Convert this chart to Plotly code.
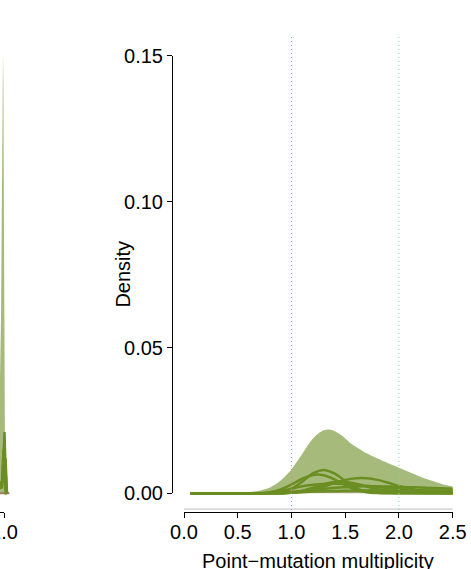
import plotly.graph_objects as go

W, H = 471, 569

# ---------------- data: right panel (point-mutation multiplicity) ----------------
fill_x = [0.06, 0.3, 0.5, 0.6, 0.7, 0.8, 0.9, 0.95, 1.0, 1.05, 1.1, 1.15, 1.2, 1.25, 1.3,
          1.35, 1.4, 1.45, 1.5, 1.55, 1.6, 1.7, 1.8, 1.9, 2.0, 2.1, 2.2, 2.3, 2.4, 2.5]
fill_y = [0.0001, 0.0001, 0.0002, 0.0004, 0.0009, 0.0020, 0.0044, 0.0062, 0.0082, 0.0108,
          0.0135, 0.0163, 0.0188, 0.0205, 0.0216, 0.0219, 0.0214, 0.0203, 0.0188, 0.0172,
          0.0160, 0.0137, 0.0119, 0.0103, 0.0088, 0.0072, 0.0057, 0.0044, 0.0032, 0.0023]

line_x = [0.06, 0.3, 0.5, 0.6, 0.7, 0.8, 0.9, 1.0, 1.1, 1.2, 1.3, 1.4, 1.5, 1.6, 1.7,
          1.8, 1.9, 2.0, 2.1, 2.2, 2.3, 2.4, 2.5]
sample_a = [0, 0, 0, 0, 0, 0.0001, 0.0004, 0.0015, 0.0040, 0.0068, 0.0080, 0.0068, 0.0042,
            0.0018, 0.0006, 0.0002, 0.0001, 0, 0, 0, 0, 0, 0]
sample_b = [0, 0, 0, 0, 0.0001, 0.0004, 0.0013, 0.0030, 0.0050, 0.0063, 0.0062, 0.0048,
            0.0028, 0.0012, 0.0004, 0.0001, 0, 0, 0, 0, 0, 0, 0]
sample_c = [0, 0, 0, 0, 0, 0, 0, 0.0002, 0.0006, 0.0013, 0.0023, 0.0035, 0.0046, 0.0052,
            0.0052, 0.0046, 0.0036, 0.0025, 0.0016, 0.0009, 0.0005, 0.0002, 0.0001]
sample_d = [0, 0, 0, 0, 0, 0.0002, 0.0008, 0.0016, 0.0024, 0.0029, 0.0032, 0.0033, 0.0032,
            0.0030, 0.0026, 0.0022, 0.0018, 0.0015, 0.0012, 0.0010, 0.0008, 0.0006, 0.0005]
sample_e = [0, 0, 0, 0, 0, 0, 0, 0.0004, 0.0008, 0.0012, 0.0016, 0.0019, 0.0021, 0.0023,
            0.0024, 0.0024, 0.0023, 0.0022, 0.0021, 0.0020, 0.0018, 0.0017, 0.0016]
sample_f = [0, 0, 0, 0, 0, 0, 0, 0.0003, 0.0009, 0.0019, 0.0031, 0.0039, 0.0040, 0.0033,
            0.0023, 0.0014, 0.0008, 0.0004, 0.0002, 0.0001, 0, 0, 0]
sample_g = [0, 0, 0, 0, 0, 0, 0, 0.0002, 0.0004, 0.0006, 0.0007, 0.0008, 0.0009, 0.0009,
            0.0010, 0.0010, 0.0010, 0.0010, 0.0010, 0.0010, 0.0010, 0.0010, 0.0010]
brown_y = [0, 0, 0, 0, 0.0001, 0.0003, 0.0005, 0.0006, 0.0006, 0.0006, 0.0006, 0.0006,
           0.0006, 0.0006, 0.0006, 0.0006, 0.0006, 0.0006, 0.0006, 0.0006, 0.0006, 0.0006, 0.0006]
green_lines = [sample_a, sample_b, sample_c, sample_d, sample_e, sample_f, sample_g]

ref_lines = [1.0, 2.0]
x_ticks = [0.0, 0.5, 1.0, 1.5, 2.0, 2.5]
y_ticks = [0.00, 0.05, 0.10, 0.15]
x_title = "Point\u2212mutation multiplicity"
y_title = "Density"

# ---------------- data: left (cropped) panel spike ----------------
spike_x = [0.9292, 0.9627, 0.9776, 0.985, 0.9887, 0.9924, 0.9947, 0.9962, 0.9976, 0.9999,
           1.0017, 1.0036, 1.0073, 1.0147]
spike_y = [0.0, 0.004, 0.020, 0.040, 0.060, 0.100, 0.140, 0.151, 0.140, 0.080, 0.030,
           0.012, 0.003, 0.0]
spike_line_x = [0.93, 0.9924, 0.998, 1.0017, 1.0055, 1.011]
spike_line_1 = [0, 0.002, 0.012, 0.021, 0.008, 0]
spike_line_2 = [0, 0.004, 0.015, 0.006, 0.0, 0]
spike_line_3 = [0, 0.003, 0.010, 0.004, 0.012, 0]
spike_lines = [spike_line_1, spike_line_2, spike_line_3]
left_ticks = [1.0]

OLIVE = "#6B8E23"
FILL = "rgba(107,142,35,0.6)"
BROWN = "#a07c6c"
FONT = "Liberation Sans, Arial, Helvetica, sans-serif"

fig = go.Figure()

# right panel
fig.add_trace(go.Scatter(x=fill_x, y=fill_y, mode="lines", fill="tozeroy", fillcolor=FILL,
                         line=dict(width=0, shape="spline", smoothing=0.8, color=FILL),
                         xaxis="x", yaxis="y", hoverinfo="skip", showlegend=False))
fig.add_trace(go.Scatter(x=line_x, y=brown_y, mode="lines",
                         line=dict(width=2, color=BROWN, shape="spline"),
                         xaxis="x", yaxis="y", hoverinfo="skip", showlegend=False))
for ys in green_lines:
    fig.add_trace(go.Scatter(x=line_x, y=ys, mode="lines",
                             line=dict(width=2.5, color=OLIVE, shape="spline", smoothing=0.8),
                             xaxis="x", yaxis="y", hoverinfo="skip", showlegend=False))

# left cropped panel
fig.add_trace(go.Scatter(x=spike_x, y=spike_y, mode="lines", fill="tozeroy", fillcolor=FILL,
                         line=dict(width=0, color=FILL),
                         xaxis="x3", yaxis="y", hoverinfo="skip", showlegend=False))
fig.add_trace(go.Scatter(x=[0.93, 1.02], y=[0, 0], mode="lines",
                         line=dict(width=2, color=BROWN),
                         xaxis="x3", yaxis="y", hoverinfo="skip", showlegend=False))
for ys in spike_lines:
    fig.add_trace(go.Scatter(x=spike_line_x, y=ys, mode="lines",
                             line=dict(width=2.5, color=OLIVE),
                             xaxis="x3", yaxis="y", hoverinfo="skip", showlegend=False))

# dummy traces so the display axes exist
fig.add_trace(go.Scatter(x=[None], y=[None], xaxis="x2", yaxis="y2", showlegend=False, hoverinfo="skip"))
fig.add_trace(go.Scatter(x=[None], y=[None], xaxis="x4", yaxis="y", showlegend=False, hoverinfo="skip"))

def px_x(p):
    return p / W

def px_y(p):
    return (H - p) / H

axis_common = dict(showline=True, linecolor="black", linewidth=1, ticks="outside",
                   ticklen=5, tickwidth=1, tickcolor="black", showgrid=False,
                   zeroline=False, tickfont=dict(size=20, color="black", family=FONT),
                   automargin=False, fixedrange=True, ticklabeloverflow="allow")

fig.update_layout(
    width=W, height=H, autosize=False,
    margin=dict(l=0, r=0, t=0, b=0, pad=0),
    paper_bgcolor="white", plot_bgcolor="rgba(0,0,0,0)",
    font=dict(family=FONT, size=20, color="black"),
    xaxis=dict(domain=[px_x(173.25), px_x(463.4)], range=[-0.1, 2.6], visible=False,
               anchor="y", fixedrange=True),
    yaxis=dict(domain=[px_y(510.8), px_y(38.4)], range=[-0.006, 0.156], visible=False,
               anchor="x", fixedrange=True),
    xaxis3=dict(domain=[0, px_x(14.8)], range=[0.985, 1.04], visible=False,
                anchor="y", fixedrange=True),
    xaxis2=dict(domain=[px_x(184), px_x(452.7)], range=[0, 2.5], anchor="free",
                position=px_y(512), tickvals=x_ticks,
                ticktext=[f"{v:.1f}" for v in x_ticks], ticklabelstandoff=-3,
                **axis_common),
    yaxis2=dict(domain=[px_y(493.3), px_y(55.9)], range=[0, 0.15], anchor="free",
                position=px_x(172), side="left", tickvals=y_ticks,
                ticktext=[f"{v:.2f}" for v in y_ticks],
                **axis_common),
    xaxis4=dict(domain=[0, px_x(4)], range=[1.0 - 4 / 269, 1.0], anchor="free",
                position=px_y(512), tickvals=left_ticks,
                ticktext=[f"{v:.1f}" for v in left_ticks], ticklabelstandoff=-3,
                **axis_common),
    annotations=[
        dict(text=y_title, xref="paper", yref="paper", x=px_x(123), y=px_y(274.6),
             xanchor="center", yanchor="middle", textangle=-90, showarrow=False,
             font=dict(size=20, family=FONT, color="black")),
        dict(text=x_title, xref="paper", yref="paper", x=px_x(318.4), y=px_y(561),
             xanchor="center", yanchor="middle", showarrow=False,
             font=dict(size=20, family=FONT, color="black")),
    ],
    shapes=[
        dict(type="line", xref="x", yref="y", x0=x_ticks[0], x1=x_ticks[-1],
             y0=-0.0054, y1=-0.0054, line=dict(color="#bdbdbd", width=1), layer="below"),
    ] + [
        dict(type="line", xref="x", yref="paper", x0=v, x1=v, y0=px_y(510), y1=px_y(36),
             line=dict(color=c, width=1, dash="1px,3px"), layer="above")
        for v, c in zip(ref_lines, ["#3ccf8e", "#6fdcae"])
    ],
)

fig.write_html("out.html", config={"displayModeBar": False},
               post_script="document.body.style.margin='0px';document.body.style.overflow='hidden';")
